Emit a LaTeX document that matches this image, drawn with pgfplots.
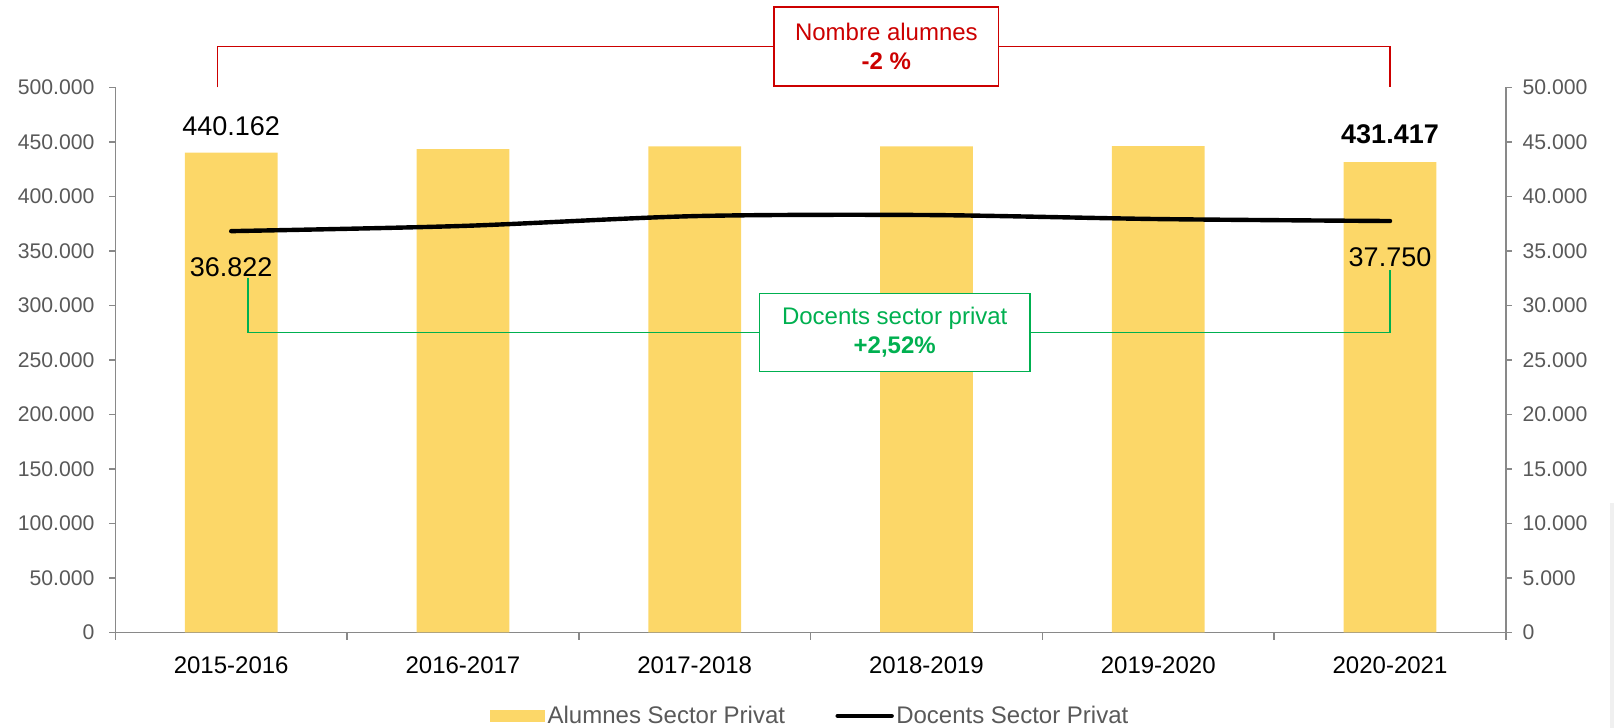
\documentclass[border=0pt]{standalone}
\usepackage{fontspec}
\setmainfont{Liberation Sans}
\usepackage{pgfplots}
\pgfplotsset{compat=1.18}
\definecolor{barcolor}{RGB}{252,215,104}
\definecolor{axisgray}{RGB}{137,137,137}
\definecolor{labelgray}{RGB}{89,89,89}
\definecolor{annred}{RGB}{204,0,0}
\definecolor{anngreen}{RGB}{0,176,80}
\pgfplotsset{
  base/.style={
    at={(57.65pt,47.75pt)}, anchor=south west,
    width=695.3pt, height=272.5pt, scale only axis,
    xmin=-0.5, xmax=5.5, ymin=0,
    clip=false,
    axis line style={draw=axisgray, line width=0.8pt},
    tick align=outside,
    major tick length=3pt, minor tick length=3.7pt,
    tick style={draw=axisgray, line width=0.8pt},
    /pgf/number format/assume math mode=true,
    /pgf/number format/fixed,
    /pgf/number format/1000 sep={.},
    scaled y ticks=false,
    y tick label style={font=\fontsize{10.6}{12}\selectfont, text=labelgray, inner sep=0pt},
  }
}
\begin{document}
\begin{tikzpicture}
\path[use as bounding box] (0,0) rectangle (807pt,364pt);
\fill[black!6] (805pt,0) rectangle (807pt,112.5pt);
\begin{axis}[base, ymax=500000,
  axis x line*=bottom, axis y line*=left,
  xtick={0,1,2,3,4,5},
  xticklabels={2015-2016,2016-2017,2017-2018,2018-2019,2019-2020,2020-2021},
  x tick label style={font=\fontsize{12}{14}\selectfont, text=black, anchor=base, inner sep=0pt, yshift=-17.6pt},
  major x tick style={draw=none},
  minor xtick={-0.5,0.5,1.5,2.5,3.5,4.5,5.5},
  ytick={0,50000,...,500000},
  y tick label style={anchor=east, xshift=-7.2pt},
]
\addplot[ybar, bar width=0.4, fill=barcolor, draw=none] coordinates {(0,440162) (1,443500) (2,446000) (3,446000) (4,446200) (5,431417)};
\draw[annred, line width=0.75pt] (axis cs:-0.06,500000) -- (axis cs:-0.06,537600) -- (axis cs:5,537600) -- (axis cs:5,500000);
\node[draw=annred, fill=white, line width=0.75pt, minimum width=112.2pt, minimum height=39.3pt, align=center, text=annred, font=\fontsize{12}{14.5}\selectfont, inner sep=0pt] at (axis cs:2.827,537600) {Nombre alumnes\\\textbf{-2 \%}};
\draw[anngreen, line width=0.75pt] (axis cs:0.0725,325300) -- (axis cs:0.0725,275200) -- (axis cs:5,275200) -- (axis cs:5,333000);
\node[draw=anngreen, fill=white, line width=0.75pt, minimum width=135.3pt, minimum height=39.1pt, align=center, text=anngreen, font=\fontsize{12}{14.5}\selectfont, inner sep=0pt] at (axis cs:2.863,275200) {Docents sector privat\\\textbf{+2,52\%}};
\node[anchor=base, inner sep=0pt, font=\fontsize{13.5}{16}\selectfont] at (axis cs:0,456400) {440.162};
\node[anchor=base, inner sep=0pt, font=\fontsize{13.5}{16}\selectfont\bfseries] at (axis cs:5,448200) {431.417};
\node[anchor=base, inner sep=0pt, font=\fontsize{13.5}{16}\selectfont] at (axis cs:0,326400) {36.822};
\node[anchor=base, inner sep=0pt, font=\fontsize{13.5}{16}\selectfont] at (axis cs:5,335600) {37.750};
\end{axis}
\begin{axis}[base, ymax=50000,
  axis x line=none, axis y line*=right,
  ytick={0,5000,...,50000},
  y tick label style={anchor=west, xshift=5.15pt},
  legend style={at={(0.5,-0.153)}, anchor=center, draw=none, fill=none, legend columns=2,
    font=\fontsize{12}{14}\selectfont, text=labelgray,
    nodes={inner sep=1.2pt},
    /tikz/every even column/.append style={column sep=24pt}},
  legend cell align=left,
]
\addlegendimage{legend image code/.code={\fill[barcolor] (0pt,-2.9pt) rectangle (27pt,2.9pt);}}
\addlegendentry{Alumnes Sector Privat}
\addplot[black, line width=2.2pt, smooth, line cap=round, legend image code/.code={\draw[black, line width=2.2pt, line cap=round] (0pt,0pt) -- (27pt,0pt);}] coordinates {(0,36822) (1,37300) (2,38200) (3,38300) (4,37930) (5,37750)};
\addlegendentry{Docents Sector Privat}
\end{axis}
\end{tikzpicture}
\end{document}
